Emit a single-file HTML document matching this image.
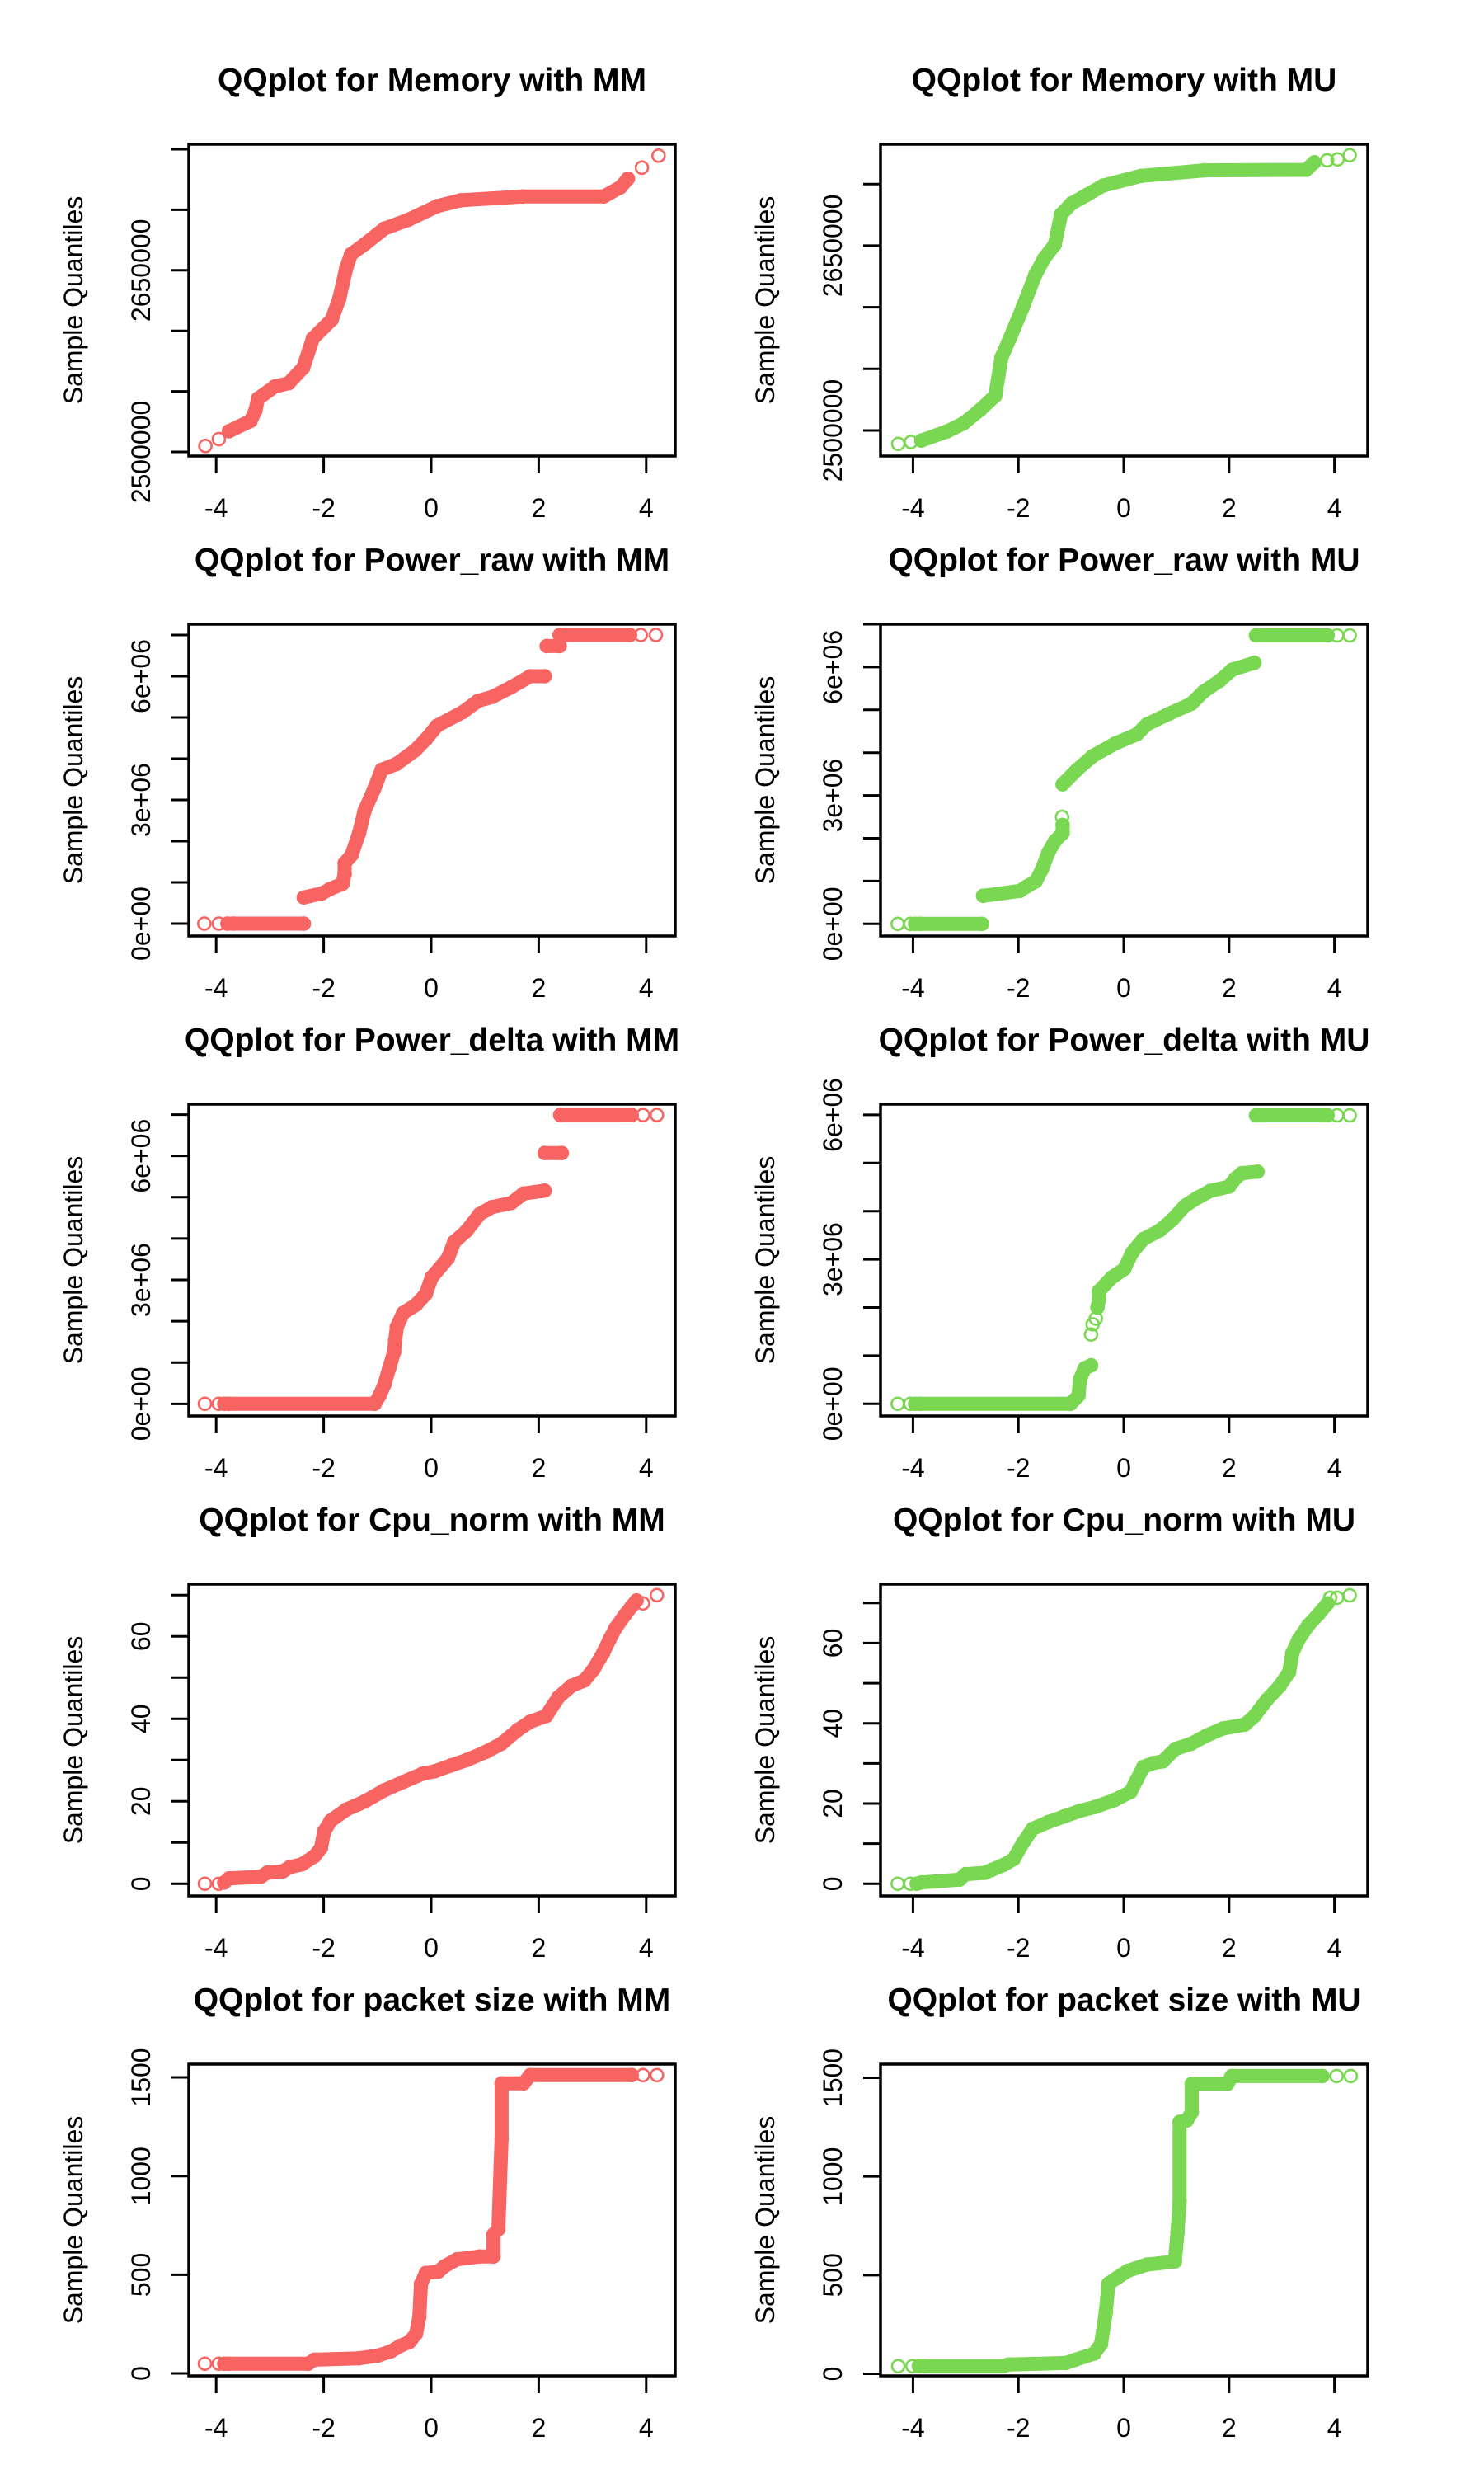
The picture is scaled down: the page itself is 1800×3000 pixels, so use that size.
<!DOCTYPE html>
<html>
<head>
<meta charset="utf-8">
<style>
html,body{margin:0;padding:0;background:#fff;}
svg{display:block;}
text{font-family:"Liberation Sans",Arial,sans-serif;fill:#000;}
</style>
</head>
<body>
<svg id="chart" xmlns="http://www.w3.org/2000/svg" width="1800" height="3000" viewBox="0 0 1800 3000">
<rect x="0" y="0" width="1800" height="3000" fill="#ffffff"></rect>
</svg>
<script>
const RED = '#F76462';
const GREEN = '#79D751';

const xTicks = [-4, -2, 0, 2, 4];
const xTickLabels = ['-4', '-2', '0', '2', '4'];

// Panel 1: Memory MM
const p1_qx = [-4.20,null,-3.95,null,-3.76,-3.36,-3.27,-3.22,-2.91,-2.65,-2.38,-2.20,-1.85,-1.71,-1.58,-1.49,-1.23,-0.87,-0.43,0.11,0.55,1.70,3.21,3.52,3.66,null,3.92,null,4.23];
const p1_qy = [2504900,null,2510560,null,2517100,2525600,2534100,2544100,2554000,2556800,2569600,2593700,2609300,2626400,2651900,2663300,2671800,2684500,2691600,2703000,2707800,2711000,2711000,2718600,2725700,null,2734800,null,2744700];
const p1_yTicks = [2500000,2550000,2600000,2650000,2700000,2750000];
const p1_yLabelVals = [2500000,2650000];
const p1_yLabelText = ['2500000','2650000'];

// Panel 2: Memory MU
const p2_qx = [-4.28,null,-4.04,null,-3.84,-3.36,-3.04,-2.72,-2.44,-2.32,-2.16,-1.92,-1.68,-1.51,-1.31,-1.19,-0.99,-0.71,-0.39,0.33,1.53,3.46,3.62,null,3.86,null,4.06,null,4.29];
const p2_qy = [2489100,null,2490630,null,2491770,2499100,2505820,2516950,2528110,2559370,2574970,2599530,2626300,2639700,2650800,2675400,2684300,2691000,2698800,2706600,2711100,2711500,2717700,null,2719300,null,2720000,null,2723400];
const p2_yTicks = [2500000,2550000,2600000,2650000,2700000];
const p2_yLabelVals = [2500000,2650000];
const p2_yLabelText = ['2500000','2650000'];

// Panel 3: Power_raw MM
const p3_qx = [-4.22,null,-3.95,null,-3.79,-3.68,-2.37,null,-2.37,-2.03,-1.89,-1.65,-1.61,-1.61,-1.48,-1.34,-1.24,-1.06,-0.92,-0.65,-0.30,-0.10,0.11,0.59,0.87,1.14,1.49,1.84,2.11,null,2.15,2.39,null,2.39,3.70,null,3.90,null,4.18];
const p3_qy = [0,null,0,null,0,0,0,null,633000,733000,833000,967000,1200000,1467000,1667000,2200000,2733000,3267000,3733000,3867000,4200000,4467000,4800000,5133000,5400000,5500000,5733000,6000000,6000000,null,6733000,6733000,null,7000000,7000000,null,7000000,null,7000000];
const p3_yTicks = [0,1e6,2e6,3e6,4e6,5e6,6e6,7e6];
const p3_yLabelVals = [0,3e6,6e6];
const p3_yLabelText = ['0e+00','3e+06','6e+06'];

// Panel 4: Power_raw MU
const p4_qx = [-4.29,null,-4.05,null,-3.96,-3.87,-2.69,null,-2.67,-1.97,-1.85,-1.67,-1.55,-1.43,-1.31,-1.16,-1.16,null,-1.17,null,-1.16,-0.89,-0.59,-0.17,0.25,0.44,0.86,1.28,1.52,1.82,2.06,2.48,null,2.51,3.87,null,4.05,null,4.29];
const p4_qy = [0,null,0,null,0,0,0,null,655000,770000,867000,994000,1283000,1669000,1927000,2120000,2310000,null,2500000,null,3260000,3600000,3920000,4210000,4430000,4660000,4910000,5140000,5430000,5680000,5940000,6100000,null,6740000,6740000,null,6740000,null,6740000];
const p4_yTicks = [0,1e6,2e6,3e6,4e6,5e6,6e6,7e6];
const p4_yLabelVals = [0,3e6,6e6];
const p4_yLabelText = ['0e+00','3e+06','6e+06'];

// Panel 5: Power_delta MM
const p5_qx = [-4.21,null,-3.95,null,-3.85,-3.76,-1.05,-0.96,-0.87,-0.78,-0.69,-0.67,-0.64,-0.52,-0.28,-0.10,0.01,0.31,0.43,0.66,0.90,1.13,1.49,1.72,2.11,null,2.11,2.43,null,2.40,3.73,null,3.94,null,4.20];
const p5_qy = [0,null,0,null,0,0,0,200000,470000,860000,1260000,1530000,1860000,2200000,2400000,2660000,3060000,3520000,3920000,4190000,4590000,4760000,4860000,5090000,5160000,null,6070000,6070000,null,6990000,6990000,null,6990000,null,6990000];
const p5_yTicks = [0,1e6,2e6,3e6,4e6,5e6,6e6,7e6];
const p5_yLabelVals = [0,3e6,6e6];
const p5_yLabelText = ['0e+00','3e+06','6e+06'];

// Panel 6: Power_delta MU
const p6_qx = [-4.29,null,-4.05,null,-3.96,-3.87,-1.01,-0.86,-0.83,-0.74,-0.62,null,-0.62,null,-0.59,null,-0.53,null,-0.50,-0.47,-0.47,-0.23,0.01,0.16,0.37,0.68,0.92,1.16,1.40,1.64,2.00,2.12,2.24,2.54,null,2.51,3.87,null,4.05,null,4.29];
const p6_qy = [0,null,0,null,0,0,0,170000,510000,740000,800000,null,1440000,null,1650000,null,1770000,null,2000000,2170000,2340000,2620000,2800000,3140000,3420000,3600000,3820000,4110000,4280000,4420000,4510000,4680000,4790000,4820000,null,5990000,5990000,null,5990000,null,5990000];
const p6_yTicks = [0,1e6,2e6,3e6,4e6,5e6,6e6];
const p6_yLabelVals = [0,3e6,6e6];
const p6_yLabelText = ['0e+00','3e+06','6e+06'];

// Panel 7: Cpu_norm MM
const p7_qx = [-4.21,null,-3.95,null,-3.85,-3.76,-3.17,-3.05,-2.76,-2.64,-2.41,-2.17,-2.05,-1.99,-1.87,-1.58,-1.23,-0.87,-0.52,-0.16,0.07,0.37,0.66,1.02,1.31,1.61,1.84,2.14,2.37,2.61,2.85,3.02,3.20,3.32,3.43,3.61,3.73,3.82,null,3.94,null,4.20];
const p7_qy = [0,null,0,null,0.3,1.3,1.7,2.7,3.0,4.0,4.7,6.7,8.7,12.7,15.3,18.0,20.0,22.7,24.7,26.7,27.3,28.7,30.0,32.0,34.0,37.3,39.3,40.7,45.3,48.0,49.3,52.0,56.0,59.3,62.0,65.3,67.3,68.7,null,68.0,null,70.0];
const p7_yTicks = [0,10,20,30,40,50,60,70];
const p7_yLabelVals = [0,20,40,60];
const p7_yLabelText = ['0','20','40','60'];

// Panel 8: Cpu_norm MU
const p8_qx = [-4.29,null,-4.05,null,-3.93,-3.84,-3.12,-3.00,-2.64,-2.51,-2.27,-2.09,-1.91,-1.73,-1.43,-1.13,-0.83,-0.53,-0.17,0.13,0.25,0.37,0.56,0.74,0.98,1.28,1.58,1.88,2.30,2.48,2.72,2.96,3.14,3.20,3.32,3.50,3.69,3.87,null,3.92,null,4.05,null,4.29];
const p8_qy = [0,null,0,null,0,0.34,1.03,2.40,2.74,3.43,4.80,6.17,10.28,13.7,15.4,16.8,18.2,19.2,20.9,22.9,26.0,29.1,30.1,30.5,33.6,34.9,37.0,38.7,39.7,41.8,45.9,49.3,52.8,57.5,60.9,64.4,67.1,69.9,null,71.3,null,71.3,null,71.9];
const p8_yTicks = [0,10,20,30,40,50,60,70];
const p8_yLabelVals = [0,20,40,60];
const p8_yLabelText = ['0','20','40','60'];

// Panel 9: packet size MM
const p9_qx = [-4.21,null,-3.95,null,-3.85,-3.76,-2.29,-2.17,-1.34,-0.99,-0.75,-0.58,-0.40,-0.28,-0.22,-0.19,-0.10,0.13,0.25,0.48,0.90,1.16,1.16,1.25,1.31,1.31,1.72,1.84,3.73,null,3.94,null,4.20];
const p9_qy = [48.8,null,48.8,null,48.8,48.8,48.8,69.6,76.6,90.5,111.4,139.3,160.2,202,285.6,452.8,508.4,515.4,543.3,578.1,592.0,592.0,703.5,731.3,1191,1469.5,1469.5,1511.3,1511.3,null,1511.3,null,1511.3];
const p9_yTicks = [0,500,1000,1500];
const p9_yLabelVals = [0,500,1000,1500];
const p9_yLabelText = ['0','500','1000','1500'];

// Panel 10: packet size MU
const p10_qx = [-4.28,null,-4.01,null,-3.89,-3.77,-2.28,-2.19,-1.10,-0.92,-0.56,-0.43,-0.34,-0.29,-0.11,0.07,0.43,0.97,1.02,1.06,1.06,1.20,1.29,1.29,1.97,2.05,3.77,null,4.04,null,4.31];
const p10_qy = [38.9,null,38.9,null,38.9,38.9,38.9,46.8,54.7,71,103,151,312,457,489,521,553,569,714,875,1276,1284,1325,1469,1469,1509,1509,null,1509,null,1509];
const p10_yTicks = [0,500,1000,1500];
const p10_yLabelVals = [0,500,1000,1500];
const p10_yLabelText = ['0','500','1000','1500'];

const panels = [
  {key:'memory-mm', title:'QQplot for Memory with MM', row:0, col:0, color:RED, qx:p1_qx, qy:p1_qy, yTicks:p1_yTicks, yLV:p1_yLabelVals, yLT:p1_yLabelText, yLo:2496594, yHi:2754087},
  {key:'memory-mu', title:'QQplot for Memory with MU', row:0, col:1, color:GREEN, qx:p2_qx, qy:p2_qy, yTicks:p2_yTicks, yLV:p2_yLabelVals, yLT:p2_yLabelText, yLo:2479250, yHi:2732262},
  {key:'power-raw-mm', title:'QQplot for Power_raw with MM', row:1, col:0, color:RED, qx:p3_qx, qy:p3_qy, yTicks:p3_yTicks, yLV:p3_yLabelVals, yLT:p3_yLabelText, yLo:-300000, yHi:7260000},
  {key:'power-raw-mu', title:'QQplot for Power_raw with MU', row:1, col:1, color:GREEN, qx:p4_qx, qy:p4_qy, yTicks:p4_yTicks, yLV:p4_yLabelVals, yLT:p4_yLabelText, yLo:-283000, yHi:7000000},
  {key:'power-delta-mm', title:'QQplot for Power_delta with MM', row:2, col:0, color:RED, qx:p5_qx, qy:p5_qy, yTicks:p5_yTicks, yLV:p5_yLabelVals, yLT:p5_yLabelText, yLo:-293000, yHi:7251000},
  {key:'power-delta-mu', title:'QQplot for Power_delta with MU', row:2, col:1, color:GREEN, qx:p6_qx, qy:p6_qy, yTicks:p6_yTicks, yLV:p6_yLabelVals, yLT:p6_yLabelText, yLo:-251700, yHi:6221000},
  {key:'cpu-norm-mm', title:'QQplot for Cpu_norm with MM', row:3, col:0, color:RED, qx:p7_qx, qy:p7_qy, yTicks:p7_yTicks, yLV:p7_yLabelVals, yLT:p7_yLabelText, yLo:-2.94, yHi:72.66},
  {key:'cpu-norm-mu', title:'QQplot for Cpu_norm with MU', row:3, col:1, color:GREEN, qx:p8_qx, qy:p8_qy, yTicks:p8_yTicks, yLV:p8_yLabelVals, yLT:p8_yLabelText, yLo:-3.02, yHi:74.68},
  {key:'packet-size-mm', title:'QQplot for packet size with MM', row:4, col:0, color:RED, qx:p9_qx, qy:p9_qy, yTicks:p9_yTicks, yLV:p9_yLabelVals, yLT:p9_yLabelText, yLo:-12.5, yHi:1567},
  {key:'packet-size-mu', title:'QQplot for packet size with MU', row:4, col:1, color:GREEN, qx:p10_qx, qy:p10_qy, yTicks:p10_yTicks, yLV:p10_yLabelVals, yLT:p10_yLabelText, yLo:-10.4, yHi:1569}
];

const NS = 'http://www.w3.org/2000/svg';
const svg = document.getElementById('chart');

function mk(tag, attrs, parent) {
  const e = document.createElementNS(NS, tag);
  for (const k in attrs) e.setAttribute(k, attrs[k]);
  parent.appendChild(e);
  return e;
}

panels.forEach(function(p) {
  const left = p.col ? 1068 : 229;
  const width = p.col ? 591 : 590;
  const top = 175 + 582 * p.row;
  const height = 378;
  const bottom = top + height;
  const xLo = p.col ? -4.617 : -4.509;
  const xHi = p.col ? 4.632 : 4.540;
  const sx = function(v) { return left + (v - xLo) / (xHi - xLo) * width; };
  const sy = function(v) { return bottom - (v - p.yLo) / (p.yHi - p.yLo) * height; };

  const g = mk('g', {}, svg);
  
  

  let d = '';
  let segStart = true;
  for (let i = 0; i < p.qx.length; i++) {
    if (p.qx[i] === null) { segStart = true; continue; }
    const X = sx(p.qx[i]).toFixed(1), Y = sy(p.qy[i]).toFixed(1);
    const nextIsPoint = (i + 1 < p.qx.length && p.qx[i + 1] !== null);
    if (segStart) {
      if (nextIsPoint) d += 'M' + X + ' ' + Y + ' ';
      segStart = false;
    } else {
      d += 'L' + X + ' ' + Y + ' ';
    }
  }
  const band = mk('path', {d: d, fill: 'none', stroke: p.color, 'stroke-width': 17, 'stroke-linecap': 'round', 'stroke-linejoin': 'round'}, g);
  
  

  for (let i = 0; i < p.qx.length; i++) {
    if (p.qx[i] === null) continue;
    const c = mk('circle', {cx: sx(p.qx[i]).toFixed(1), cy: sy(p.qy[i]).toFixed(1), r: 7.5, fill: 'none', stroke: p.color, 'stroke-width': 2.6}, g);
    
    
  }

  const box = mk('rect', {x: left, y: top, width: width, height: height, fill: 'none', stroke: '#000', 'stroke-width': 3.5}, g);
  
  

  xTicks.forEach(function(v, i) {
    const X = sx(v);
    const t = mk('line', {x1: X, x2: X, y1: bottom, y2: bottom + 21, stroke: '#000', 'stroke-width': 3}, g);
    
    
    const lb = mk('text', {x: X, y: bottom + 74, 'text-anchor': 'middle', 'font-size': 32}, g);
    lb.textContent = xTickLabels[i];
    
    
  });

  p.yTicks.forEach(function(v) {
    const Y = sy(v);
    const t = mk('line', {x1: left - 21, x2: left, y1: Y, y2: Y, stroke: '#000', 'stroke-width': 3}, g);
    
    
  });
  p.yLV.forEach(function(v, i) {
    const Y = sy(v);
    const lb = mk('text', {transform: 'translate(' + (left - 47) + ',' + Y.toFixed(1) + ') rotate(-90)', 'text-anchor': 'middle', 'font-size': 32}, g);
    lb.textContent = p.yLT[i];
    
    
  });

  const yt = mk('text', {transform: 'translate(' + (left - 129) + ',' + (top + height / 2) + ') rotate(-90)', 'text-anchor': 'middle', 'font-size': 32}, g);
  yt.textContent = 'Sample Quantiles';
  
  

  const ti = mk('text', {x: left + width / 2, y: top - 65, 'text-anchor': 'middle', 'font-size': 39, 'font-weight': 'bold'}, g);
  ti.textContent = p.title;
  
  
});
</script>
</body>
</html>
